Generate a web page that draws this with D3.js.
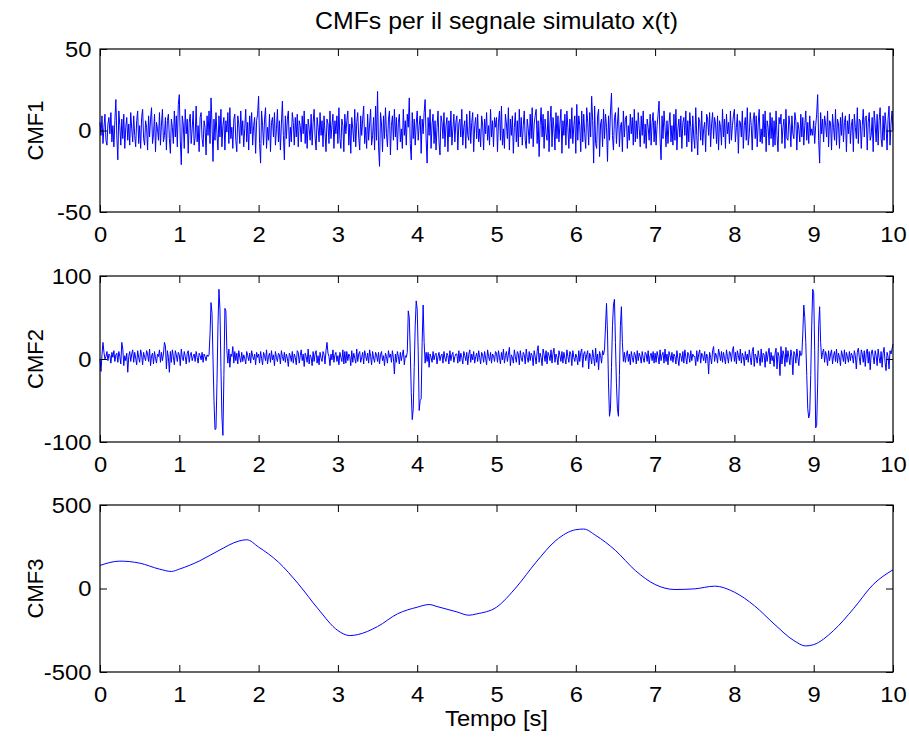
<!DOCTYPE html>
<html>
<head>
<meta charset="utf-8">
<script src="https://cdn.jsdelivr.net/npm/d3@7"></script>
<style>
  body { margin: 0; background: #fff; }
  svg { display: block; }
</style>
</head>
<body>
<svg id="chart" width="909" height="738"></svg>
<script>
const t_end = 10;

const x_ticks = [0, 1, 2, 3, 4, 5, 6, 7, 8, 9, 10];

// CMF1 - noise component, one row per half second
const cmf1 = [
  5, -3, 9, -8, 2, 10, -6, -9, 4, 8, -2, 11, -7, 3, -10, 6, 19, -4, -18, 12, 3, -9, 7, -5, 10, -11, 2, 8, -6, 4, -9, 11, 1, -7, 9, -3, -10, 6, 12, -8,
  3, -11, 8, 13, -5, -9, 6, 2, -12, 9, -4, 7, 14, -8, -2, 10, -13, 5, 1, -6, 11, -9, 4, 13, -7, -3, 8, -12, 6, 10, -5, -14, 7, 2, -8, 12, -4, 9, -10, 16,
  22, -6, -21, 9, 4, -11, 13, -2, 7, -14, 5, 10, -8, 1, 12, -9, -4, 15, -7, 3, -13, 8, 11, -5, -10, 6, 2, -15, 9, -3, 12, -8, 20, 4, -19, 7, -6, 11, -2, -12,
  9, -4, 13, -10, 3, 8, -12, 6, -1, 11, -8, 14, -5, 2, -11, 7, 10, -6, -13, 9, 4, -8, 12, -3, 6, -10, 1, 13, -7, 5, -12, 9, -2, 11, -9, 3, 8, -14, 6, 10,
  21, -8, -20, 12, 3, -9, 7, 14, -11, 2, -6, 10, -13, 5, 8, -4, 11, -9, 1, 13, -7, 6, -12, 4, 18, -3, -18, 9, -5, 7, 12, -10, 2, -7, 11, 5, -9, 8, -4, 10,
  -10, 6, 3, -7, 9, -2, 12, -8, 4, -11, 7, 1, -6, 10, -9, 5, 13, -4, -12, 8, 2, -7, 11, -3, 6, -10, 9, -1, -13, 7, 4, -8, 12, -5, 3, 10, -11, 6, -2, 9,
  -8, 14, -5, -11, 7, 3, -13, 10, -2, 6, 12, -9, 4, -14, 8, 1, -7, 13, -10, 5, 11, -4, -12, 9, -3, 7, 15, -8, 2, -11, 10, -6, 4, 13, -9, -3, 8, -12, 15, -6,
  24, -10, -22, 11, 4, -13, 9, -5, 14, -2, -10, 7, 12, -15, 3, 9, -6, 13, -4, 8, -12, 5, 10, -7, 1, -11, 13, -3, 6, -9, 10, 2, 20, -8, -18, 11, -5, 7, -9, 4,
  12, -6, 3, 9, -14, 7, -2, 11, 19, -5, -20, 8, -3, 13, -11, 4, 10, -8, 6, -12, 2, 12, -7, -15, 9, 5, -5, 11, -10, 3, 8, -13, 6, -4, 12, -9, 1, 10, -7, 5,
  9, -12, 4, 7, -4, 13, -9, 2, 6, -11, 10, -3, -6, 12, -8, 5, 11, -13, 3, 8, -5, 10, -7, 1, -10, 9, 4, -12, 7, -2, 11, -6, 3, -9, 13, -4, 6, -10, 8, 2,
  8, -13, 5, 12, -6, 15, -9, 1, -11, 10, 4, -5, 14, -12, 7, -3, 9, -14, 2, 11, -7, 6, -10, 13, -4, 8, -9, 3, 12, -6, -11, 7, 1, -8, 10, -5, 14, -10, 4, 9,
  13, -8, 6, -16, 3, 14, -4, 10, -11, 7, -2, -6, 12, -13, 5, 15, -10, 8, 1, -12, 11, -5, 9, -7, 4, 13, -14, 6, -3, 10, -9, 12, 2, -11, 7, -5, 14, -8, 3, 9,
  -14, 16, -6, 9, 3, -13, 12, -7, 10, -2, -11, 14, 5, -9, 11, -4, 21, 6, -20, 15, -8, -11, 9, 13, -16, 4, 7, -10, 13, -5, 10, 2, -19, 9, -6, 12, 23, -3, -12, 8,
  11, -8, 4, 14, -10, 2, 5, -13, 12, -4, 7, 9, -11, 3, -6, 10, -2, 8, -9, 13, -7, 6, -5, 11, 1, -10, 9, -3, 12, -8, 4, -11, 7, 2, -6, 10, -9, 5, 11, -7,
  6, -9, 3, 10, 18, -5, -18, 9, -5, 12, 2, -10, 6, -8, 4, 11, -7, 3, -9, 10, -6, 13, -12, 1, 7, -4, 9, -11, 5, 8, -3, 12, -10, 6, -7, 11, 2, -13, 9, -4,
  -11, 14, -3, -15, 8, 5, -6, 12, -9, 1, 5, -13, 10, 7, -3, 11, -10, 4, 11, -5, 8, 4, -8, 9, -12, 6, 2, -9, 13, -4, 7, -11, 10, -2, 5, -8, 12, -6, 3, 9,
  13, -7, 2, 10, -14, 6, 5, -4, 12, -11, 3, 8, -6, 14, -9, -2, 11, 3, -12, 7, 11, -5, 9, -10, 4, 13, -7, 1, -8, 10, -4, 12, -13, 6, 2, -9, 11, -5, 8, -10,
  6, -9, 12, -3, -13, 8, 4, 10, -8, 2, 7, -11, 13, -5, -6, 9, 3, -10, 9, -2, -5, 11, 6, -12, 5, 1, -7, 10, -4, 8, -9, 3, 12, -6, 5, -8, 9, -3, 1, -3,
  6, -8, 3, 10, 22, -6, -20, 11, -2, 7, -7, 9, 4, -4, 12, -10, 6, 5, -12, 10, 2, -6, 13, -9, 7, 4, -11, 8, -3, 11, -7, 5, 9, -13, 6, -2, 10, -8, 3, 7,
  -13, 10, 2, -5, 14, -8, 7, 6, -11, 3, 13, -4, 8, 9, -12, 5, 11, -6, -3, 8, -13, 12, 4, -7, 10, -9, 6, 14, -5, -10, 9, -6, 11, 3, -12, 7, 15, -9, 4, 12,
  0
];

// CMF2 - noise with four bursts, one row per half second
const cmf2 = [
  0, -15, 5, 20, 8, 0, 3, 9, -2, 6, 4, -5, 8, 2, 10, -3, 5, 7, -4, 9, 3, -6, 20, 12, -8, 4, -2, 7, -16, 3, 9, -3, 6, 11, -4, 8, 1, -7, 10, 2,
  -4, 11, 5, -7, 8, 2, -2, 10, 6, -3, 12, -8, 4, 7, -6, 9, 1, -5, 6, 3, 11, -4, 8, -2, 6, 20, 16, -12, 10, 2, -16, 9, -4, 11, 3, -7, 10, 5, -3, 8,
  5, -8, 12, 2, -2, 9, 3, -6, 7, 10, -4, 5, 8, -2, 3, 6, -3, 9, 2, -5, 7, 4, -1, 8, -4, 6, 3, -2, 5, 3, 5, 30, 68, 55, 0, -50, -85, -84, -30, 40,
  84, 60, -10, -70, -92, -20, 61, 58, 10, -5, 12, -10, 6, 3, 15, -5, 9, -2, 7, -6, 10, 2, -4, 8, -3, 5, 1, -6, 9, 4, -2, 7, -5, 10, 3, -1, 6, -7, 8, 2,
  6, -5, 9, 1, -7, 8, 4, -2, 11, -6, 3, 7, -4, 10, -1, 5, -8, 9, 2, -3, 7, 5, -6, 10, 3, -2, 8, -4, 6, 1, -9, 7, 4, -3, 9, -5, 6, 2, -7, 10,
  8, -5, 4, 11, -2, 6, -9, 7, 3, -4, 12, -6, 5, 2, -8, 9, -3, 6, 10, -5, 4, -7, 8, 1, -3, 9, 5, -6, 10, 20, 7, 3, -8, 6, -1, 11, -4, 5, 8, -3,
  4, -7, 8, 2, -3, 11, -6, 9, -5, 9, -2, 6, 3, -8, 10, -4, 7, 1, -5, 12, -3, 6, 9, -4, 2, 8, -6, 10, 4, -2, 7, -5, 11, 3, -7, 9, 1, -4, 8, 5,
  -3, 8, -6, 5, 9, -2, 4, -8, 7, 3, -5, 10, 2, 6, -4, 10, 1, -18, 6, -4, 9, 3, -6, 8, -2, 5, 11, -7, 4, 2, 8, 58, 50, 10, -40, -73, -60, -10, 40, 70,
  60, 10, -62, -50, -48, 20, 65, 20, -5, 8, -3, 8, -10, 6, 2, -4, 9, -1, 5, 7, -6, 3, 8, -2, 4, 6, -5, 9, 1, -3, 7, 4, -6, 10, -2, 5, 8, -4, 3, 6,
  6, -5, 10, -3, 7, 2, -6, 9, 4, -2, 8, -7, 5, 11, -4, 6, -1, 9, -5, 3, 7, -3, 10, 2, -6, 8, 5, -4, 9, 1, -7, 11, 3, -2, 8, -5, 6, 4, -3, 9,
  7, -4, 10, 2, -6, 8, -1, 12, -5, 4, 9, -3, 6, 14, -8, 5, 2, -5, 11, 3, -4, 9, 6, -7, 10, 1, -3, 8, 5, -6, 12, 2, -4, 9, -2, 7, 4, -8, 10, 3,
  -6, 9, 16, -4, 7, 2, -8, 12, 5, -3, 10, -6, 8, 4, -2, 11, -5, 7, 13, -4, 6, 2, -7, 10, 4, -3, 9, -5, 8, 1, -6, 11, 3, -4, 9, 6, -8, 10, 2, -3,
  6, 2, -7, 10, -3, 8, 12, -10, 6, 9, -2, 5, 10, -12, 7, 3, -6, 11, 2, -8, 13, -4, 6, -13, 9, 4, -5, 10, 5, 12, 40, 67, 30, -30, -69, -60, -10, 40, 65, 72,
  20, -30, -60, -69, -20, 40, 63, 20, -3, 8, -4, 5, 10, -3, 6, -7, 9, 2, -4, 8, 5, -6, 10, -2, 7, 3, -5, 9, 1, -4, 8, 6, -3, 10, -6, 4, 7, -2, 9, -5,
  7, -4, 9, 3, -6, 11, -2, 5, 8, -5, 12, -3, 6, -7, 9, 4, -2, 8, -4, 6, 3, -6, 10, 1, -8, 7, 4, -3, 9, -5, 11, 2, -6, 8, 5, -4, 10, -2, 6, 3,
  3, -8, 10, -3, 6, 11, -5, 7, 4, -2, 9, -5, 6, 3, -18, 8, 2, -6, 10, 15, -3, 7, 4, -5, 12, 6, -2, 9, -4, 8, 1, -6, 11, 3, -5, 9, 7, -3, 10, 15,
  -3, 8, -6, 10, 4, -2, 12, -5, 7, 3, -8, 9, -1, 6, -4, 11, 2, -7, 9, 14, -9, 6, 3, -5, 10, 2, -8, 12, -4, 7, 5, -10, 9, -3, 6, 13, -6, 8, -2, 4,
  -9, 6, 13, -12, 8, 3, -20, 15, -6, 10, 5, -9, 14, -4, 10, 2, -7, 11, 3, -19, 9, 6, -5, 12, 2, -8, 10, 4, 5, 30, 65, 50, 20, -20, -60, -71, -65, -20, 40, 84,
  80, 10, -83, -80, -30, 40, 63, 20, 0, 8, 12, -4, 9, 3, -8, 10, -2, 6, 11, -6, 4, 9, -3, 12, -5, 7, 2, -8, 10, 5, -3, 11, -6, 8, 3, -4, 9, -2, 7, 4,
  -5, 10, 4, -12, 8, 13, 2, -7, 11, 6, -4, 10, -9, 7, 12, -5, 9, -13, 6, 11, 3, -6, 10, 4, -8, 12, 2, -5, 9, -10, 7, 14, -4, -14, 8, 3, -12, 10, 6, 12,
  18
];

// CMF3 - slow trend
const cmf3_t = [0, 0.25, 0.5, 0.75, 0.9, 1.0, 1.25, 1.5, 1.75, 1.85, 2.0, 2.25, 2.5, 2.75,
  3.0, 3.15, 3.25, 3.5, 3.75, 4.0, 4.15, 4.25, 4.5, 4.65, 4.75, 5.0, 5.25, 5.5, 5.75,
  6.0, 6.1, 6.25, 6.5, 6.75, 7.0, 7.25, 7.5, 7.75, 8.0, 8.25, 8.5, 8.75, 8.9, 9.0,
  9.25, 9.5, 9.75, 10];
const cmf3_v = [138, 164, 152, 116, 102, 116, 164, 228, 284, 292, 248, 158, 28, -122,
  -252, -282, -276, -228, -152, -112, -96, -108, -140, -160, -152, -112, 8, 158, 288,
  352, 356, 318, 228, 108, 24, -6, -2, 14, -22, -102, -212, -312, -344, -336,
  -252, -122, 24, 112];

function evenly(values) {
  const step = t_end / (values.length - 1);
  return values.map((v, i) => [i * step, v]);
}

const panels = [
  {label: "CMF1", domain: [-50, 50], ticks: [-50, 0, 50], top: 49, bottom: 212,
   points: evenly(cmf1)},
  {label: "CMF2", domain: [-100, 100], ticks: [-100, 0, 100], top: 276, bottom: 442,
   points: evenly(cmf2)},
  {label: "CMF3", domain: [-500, 500], ticks: [-500, 0, 500], top: 505, bottom: 672,
   points: cmf3_t.map((t, i) => [t, cmf3_v[i]]), smooth: true}
];

const left = 100, right = 893;
const font = "'Liberation Sans', Arial, sans-serif";
const font_size = 22;
const title_size = 23;
const stretch = 1.08; // the source figure's text is a bit wide
const tick_len = 7;

const svg = d3.select("#chart");

const x = d3.scaleLinear().domain([0, t_end]).range([left, right]);

function styleAxis(g) {
  g.attr("font-family", font).attr("font-size", font_size);
  g.selectAll("path.domain").remove();
  g.selectAll("line").attr("stroke", "#000");
  g.selectAll("text").attr("fill", "#000");
}

const plain = d => String(d);

panels.forEach(p => {
  const y = d3.scaleLinear().domain(p.domain).range([p.bottom, p.top]);

  const line = d3.line()
    .x(d => x(d[0]))
    .y(d => y(d[1]));
  if (p.smooth) line.curve(d3.curveMonotoneX);

  svg.append("path")
    .datum(p.points)
    .attr("fill", "none")
    .attr("stroke", "#0000ff")
    .attr("stroke-width", 1)
    .attr("stroke-linejoin", "round")
    .attr("d", line);

  svg.append("g")
    .attr("transform", `translate(0,${p.bottom})`)
    .call(d3.axisBottom(x).tickValues(x_ticks).tickFormat(plain)
      .tickSizeInner(-tick_len).tickSizeOuter(0).tickPadding(14))
    .call(styleAxis)
    .selectAll("text").attr("transform", `scale(${stretch},1)`);

  svg.append("g")
    .attr("transform", `translate(0,${p.top})`)
    .call(d3.axisTop(x).tickValues(x_ticks).tickSizeInner(-tick_len).tickSizeOuter(0).tickFormat(""))
    .call(styleAxis);

  svg.append("g")
    .attr("transform", `translate(${left},0)`)
    .call(d3.axisLeft(y).tickValues(p.ticks).tickFormat(plain)
      .tickSizeInner(-tick_len).tickSizeOuter(0).tickPadding(8))
    .call(styleAxis)
    .selectAll("text").attr("transform", `scale(${stretch},1)`);

  svg.append("g")
    .attr("transform", `translate(${right},0)`)
    .call(d3.axisRight(y).tickValues(p.ticks).tickSizeInner(-tick_len).tickSizeOuter(0).tickFormat(""))
    .call(styleAxis);

  svg.append("rect")
    .attr("x", left)
    .attr("y", p.top)
    .attr("width", right - left)
    .attr("height", p.bottom - p.top)
    .attr("fill", "none")
    .attr("stroke", "#000")
    .attr("stroke-width", 1.2);

  svg.append("text")
    .attr("transform", `translate(43,${(p.top + p.bottom) / 2}) rotate(-90)`)
    .attr("text-anchor", "middle")
    .attr("font-family", font)
    .attr("font-size", font_size)
    .text(p.label);
});

svg.append("text")
  .attr("transform", `translate(${(left + right) / 2},29) scale(${stretch},1)`)
  .attr("text-anchor", "middle")
  .attr("font-family", font)
  .attr("font-size", title_size)
  .text("CMFs per il segnale simulato x(t)");

svg.append("text")
  .attr("transform", `translate(${(left + right) / 2},726) scale(${stretch},1)`)
  .attr("text-anchor", "middle")
  .attr("font-family", font)
  .attr("font-size", font_size)
  .text("Tempo [s]");
</script>
</body>
</html>
